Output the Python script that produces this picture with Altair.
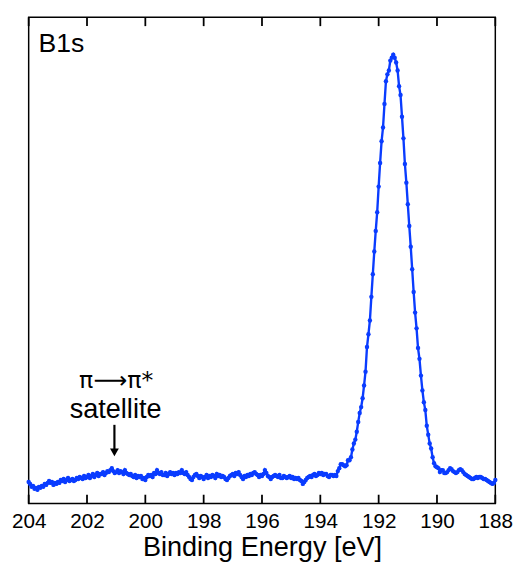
import altair as alt
import pandas as pd

# Binding energy grid: 204 eV down to 188 eV in 0.05 eV steps (321 points)
energy_start = 204.0
energy_step = 0.05

# Intensity (arbitrary units), one per energy step
intensity = [
    22, 20, 17, 18, 15, 16, 14, 17, 16, 18,
    17, 20, 19, 21, 23, 21, 22, 19, 21, 20,
    22, 21, 24, 23, 25, 22, 24, 26, 23, 24,
    25, 23, 24, 26, 25, 27, 26, 25, 28, 26,
    27, 29, 26, 28, 30, 27, 29, 31, 28, 30,
    30, 32, 29, 31, 33, 32, 34, 36, 33, 31,
    32, 34, 31, 33, 32, 30, 34, 31, 30, 29,
    30, 28, 27, 29, 26, 28, 27, 28, 25, 26,
    24, 27, 29, 28, 29, 27, 31, 30, 34, 31,
    30, 32, 29, 29, 31, 28, 30, 32, 30, 31,
    29, 31, 30, 32, 31, 34, 31, 30, 32, 29,
    27, 25, 24, 27, 29, 30, 28, 26, 28, 27,
    25, 27, 29, 26, 28, 27, 29, 28, 26, 30,
    28, 29, 27, 28, 27, 25, 24, 26, 28, 29,
    30, 28, 31, 30, 32, 29, 27, 25, 28, 27,
    29, 28, 30, 29, 31, 32, 30, 29, 27, 29,
    28, 30, 34, 31, 28, 27, 25, 27, 28, 29,
    28, 27, 29, 26, 26, 28, 27, 26, 27, 28,
    26, 27, 25, 26, 25, 26, 24, 23, 20, 22,
    24, 26, 27, 28, 27, 29, 30, 28, 29, 31,
    30, 31, 29, 30, 30, 28, 27, 29, 29, 28,
    29, 28, 33, 36, 40, 40, 39, 38, 39, 44,
    44, 47, 55, 61, 65, 73, 83, 92, 98, 107,
    120, 134, 159, 172, 186, 210, 233, 256, 277, 296,
    322, 346, 368, 382, 406, 429, 436, 440, 450, 453,
    456, 453, 448, 440, 424, 415, 393, 371, 345, 326,
    304, 282, 261, 238, 215, 194, 178, 158, 147, 130,
    115, 103, 95, 79, 70, 61, 56, 47, 41, 38,
    37, 36, 32, 34, 34, 31, 31, 32, 34, 36,
    35, 33, 32, 31, 32, 34, 35, 34, 32, 30,
    29, 28, 27, 26, 25, 25, 26, 27, 26, 27,
    27, 26, 25, 25, 24, 23, 22, 21, 20, 21, 24,
]

tick_values = [204, 202, 200, 198, 196, 194, 192, 190, 188]

# Annotations
panel_text = ["B1s"]
panel_x = [203.66]
panel_y = [459]

pi_text = ["π⟶π*"]
pi_x = [201.0]
pi_y = [117]

sat_text = ["satellite"]
sat_x = [201.02]
sat_y = [87]

arrow_x = [201.06]
arrow_top = [80]
arrow_bottom = [52]

energies = [round(energy_start - energy_step * i, 2) for i in range(len(intensity))]
df = pd.DataFrame({"energy": energies, "intensity": intensity})

W, H = 474, 494
TICK = 9
xscale = alt.Scale(domain=[188, 204], reverse=True, nice=False, zero=False)
yscale = alt.Scale(domain=[0, 494], nice=False, zero=True)
BLUE = "#0a3cff"

xaxis = alt.Axis(
    values=tick_values, tickSize=0, labelFlush=False, labelFontSize=21,
    labelPadding=7, labelColor="black", labelFont="Liberation Sans",
    title="Binding Energy [eV]", titleFontSize=27.5, titleFontWeight="normal",
    titleFont="Liberation Sans", titleColor="black", titlePadding=3,
    domain=False, grid=False,
)

base = alt.Chart(df)
line = base.mark_line(color=BLUE, strokeWidth=2.4).encode(
    x=alt.X("energy:Q", scale=xscale, axis=xaxis),
    y=alt.Y("intensity:Q", scale=yscale, axis=None),
)
pts = base.mark_circle(color=BLUE, size=20, opacity=1).encode(
    x=alt.X("energy:Q", scale=xscale),
    y=alt.Y("intensity:Q", scale=yscale),
)

# inward tick marks along the top and bottom edges of the frame
tick_df = pd.DataFrame({"t": [float(v) for v in tick_values]})
top_ticks = alt.Chart(tick_df).mark_rule(
    stroke="black", strokeWidth=1.8, strokeOpacity=1
).encode(
    x=alt.X("t:Q", scale=xscale),
    y=alt.value(0),
    y2=alt.value(TICK),
)
bot_ticks = alt.Chart(tick_df).mark_rule(
    stroke="black", strokeWidth=1.8, strokeOpacity=1
).encode(
    x=alt.X("t:Q", scale=xscale),
    y=alt.value(H - TICK),
    y2=alt.value(H),
)

def text_layer(txt, xs, ys, font, size, align="center", baseline="alphabetic"):
    d = pd.DataFrame({"text": txt, "x": xs, "y": ys})
    return alt.Chart(d).mark_text(
        align=align, baseline=baseline, font=font, fontSize=size, color="black"
    ).encode(x=alt.X("x:Q", scale=xscale),
             y=alt.Y("y:Q", scale=yscale), text="text:N")

panel = text_layer(panel_text, panel_x, panel_y, "Liberation Sans", 27, align="left")
pi = text_layer(pi_text, pi_x, pi_y, "DejaVu Sans", 24)
sat = text_layer(sat_text, sat_x, sat_y, "Liberation Sans", 27.5)

arr_df = pd.DataFrame({"x": arrow_x, "y1": arrow_top, "y2": arrow_bottom})
shaft = alt.Chart(arr_df).mark_rule(color="black", strokeWidth=2.2).encode(
    x=alt.X("x:Q", scale=xscale),
    y=alt.Y("y1:Q", scale=yscale), y2="y2:Q"
)
head = alt.Chart(arr_df).mark_point(
    shape="triangle-down", filled=True, color="black", size=80, opacity=1
).encode(x=alt.X("x:Q", scale=xscale),
         y=alt.Y("y2:Q", scale=yscale))

chart = alt.layer(
    line, pts, panel, pi, sat, shaft, head, top_ticks, bot_ticks
).properties(
    width=W, height=H,
    autosize=alt.AutoSizeParams(type="none"),
    padding={"left": 21, "top": 5, "right": 20, "bottom": 60},
).configure(
    background="white"
).configure_view(
    stroke="black", strokeWidth=1.5
)

chart.save("out.html", embed_options={"renderer": "svg", "actions": False})
